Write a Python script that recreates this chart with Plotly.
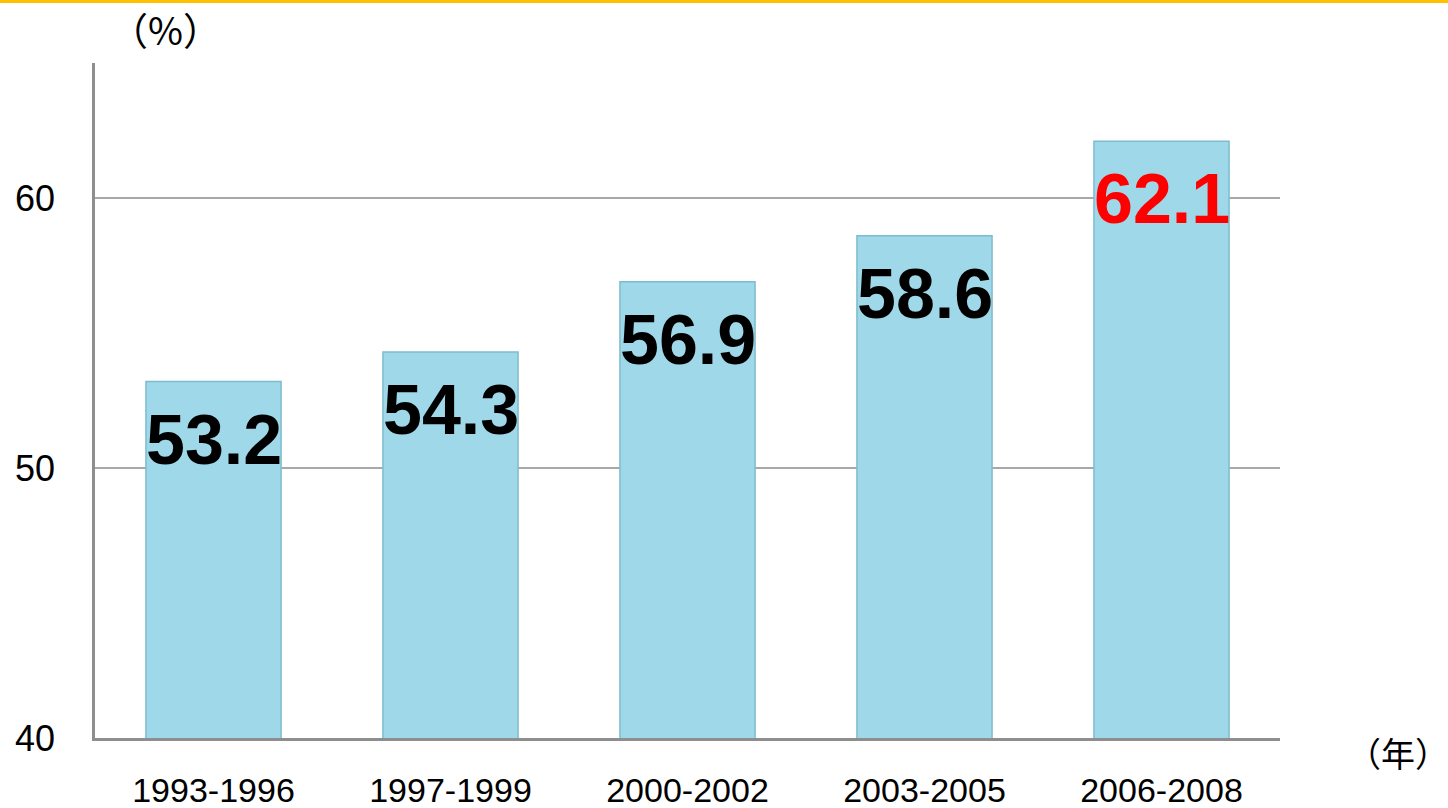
import plotly.graph_objects as go

categories = ["1993-1996", "1997-1999", "2000-2002", "2003-2005", "2006-2008"]
values = [53.2, 54.3, 56.9, 58.6, 62.1]
label_colors = ["#000000", "#000000", "#000000", "#000000", "#FF0000"]
y_ticks = [40, 50, 60]

fig = go.Figure()
fig.add_trace(go.Bar(
    x=categories, y=values,
    marker=dict(color="#9FD8E9", line=dict(color="#7DBCCE", width=1.5)),
    hoverinfo="skip",
))

for c, v, col in zip(categories, values, label_colors):
    fig.add_annotation(
        x=c, y=v, text=f"<b>{v:.1f}</b>", showarrow=False,
        yanchor="middle", yshift=-58,
        font=dict(family="Liberation Sans", size=70, color=col),
    )

fig.add_annotation(xref="paper", yref="paper", x=(165 - 95) / 1185, y=1 + (63 - 28) / 675,
                   text="（%）", showarrow=False, xanchor="center", yanchor="middle",
                   font=dict(family="Noto Sans CJK JP", size=38, color="#000000"))
fig.add_annotation(xref="paper", yref="paper", x=(1398 - 95) / 1185, y=-(752 - 738) / 675,
                   text="（年）", showarrow=False, xanchor="center", yanchor="middle",
                   borderpad=0,
                   font=dict(family="Noto Sans CJK JP", size=34, color="#000000"))

fig.add_shape(type="line", xref="paper", yref="paper",
              x0=-95 / 1185, x1=(1448 - 95) / 1185,
              y0=1 + 61.5 / 675, y1=1 + 61.5 / 675,
              line=dict(color="#FFC000", width=3))

fig.update_layout(
    width=1448, height=808,
    margin=dict(l=95, r=168, t=63, b=70, autoexpand=False),
    paper_bgcolor="white", plot_bgcolor="white",
    bargap=0.43, showlegend=False,
    font=dict(family="Liberation Sans", color="#000000"),
)
fig.update_xaxes(
    showline=True, linecolor="#8E8E8E", linewidth=2.5,
    tickfont=dict(family="Liberation Sans", size=34, color="#000000"),
    ticks="", ticklabelstandoff=20, fixedrange=True, automargin=False,
)
fig.update_yaxes(
    range=[40, 65], tickvals=y_ticks,
    showline=True, linecolor="#8E8E8E", linewidth=2.5,
    showgrid=True, gridcolor="#A8A8A8", gridwidth=1.5,
    zeroline=False,
    tickfont=dict(family="Liberation Sans", size=36, color="#000000"),
    ticks="", ticklabelstandoff=30, fixedrange=True, automargin=False,
)

fig.write_html("out.html", config={"displayModeBar": False},
               post_script="document.body.style.margin='0';document.body.style.overflow='hidden';")
